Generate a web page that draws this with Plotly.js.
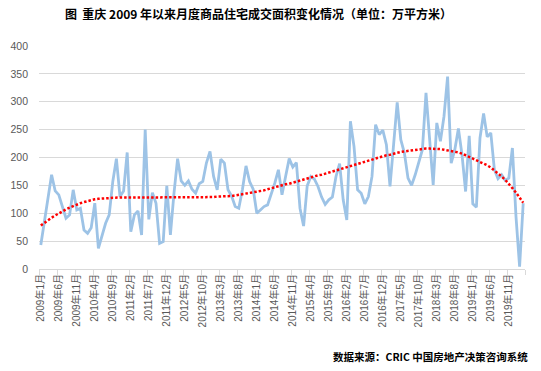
<!DOCTYPE html>
<html>
<head>
<meta charset="utf-8">
<script src="https://cdn.plot.ly/plotly-3.0.1.min.js"></script>
<style>html,body{margin:0;padding:0;background:#fff;}#chart{width:541px;height:371px;}</style>
</head>
<body>
<div id="chart"></div>
<script>
// Monthly categories: 2009-01 .. 2020-03
var startYear = 2009;
var monthCount = 135;
var categories = [];
for (var k = 0; k < monthCount; k++) {
  var yy = startYear + Math.floor(k / 12);
  var mm = (k % 12) + 1;
  categories.push(yy + '年' + mm + '月');
}

// 商品住宅成交面积（万平方米）
var area = [
  43, 88, 128, 169, 140, 133, 112, 91, 97, 142, 106, 109,
  70, 64, 74, 118, 37, 58, 82, 97, 157, 198, 130, 140,
  209, 67, 97, 104, 61, 250, 89, 137, 118, 46, 49, 149,
  61, 136, 198, 158, 150, 158, 143, 136, 153, 157, 190, 211,
  166, 142, 197, 190, 142, 131, 112, 109, 142, 185, 157, 143,
  100, 106, 112, 115, 133, 154, 178, 133, 166, 198, 183, 191,
  109, 77, 149, 166, 161, 148, 129, 116, 124, 129, 166, 189,
  124, 88, 265, 220, 142, 136, 117, 130, 166, 259, 241, 249,
  223, 148, 223, 299, 232, 208, 163, 150, 169, 190, 214, 316,
  229, 151, 262, 229, 274, 345, 190, 214, 252, 205, 139, 239,
  117, 111, 235, 279, 237, 244, 178, 162, 169, 159, 163, 217,
  94, 4, 118
];

// 多项式趋势线
var trend = [
  78, 83, 88, 92, 96, 100, 104, 107, 110, 113, 116, 118,
  120, 122, 123, 125, 126, 126, 127, 127, 128, 128, 128, 128,
  129, 129, 129, 129, 129, 129, 129, 129, 129, 129, 129, 129,
  128, 128, 128, 128, 128, 128, 128, 128, 128, 128, 129, 129,
  129, 130, 130, 130, 131, 131, 132, 133, 134, 135, 136, 137,
  138, 140, 141, 143, 145, 146, 148, 150, 152, 153, 155, 157,
  159, 161, 163, 165, 166, 168, 169, 171, 173, 175, 177, 179,
  181, 183, 185, 187, 189, 191, 193, 195, 197, 199, 200, 202,
  204, 205, 207, 209, 210, 211, 212, 213, 214, 215, 215, 216,
  216, 216, 216, 215, 214, 213, 212, 211, 209, 207, 204, 202,
  199, 196, 193, 190, 186, 182, 177, 172, 166, 160, 153, 145,
  137, 128, 119
];

var titleText = '图\u00a0\u00a0重庆 2009 年以来月度商品住宅成交面积变化情况（单位：万平方米）';
var sourceText = '数据来源：CRIC 中国房地产决策咨询系统';
var yTicks = [0, 50, 100, 150, 200, 250, 300, 350, 400];

var fontFam = 'Liberation Sans, Noto Sans CJK SC, sans-serif';
var cjkFam = 'Noto Sans CJK SC, sans-serif';

var traces = [
  {
    x: categories, y: area, type: 'scatter', mode: 'lines',
    line: {color: '#9dc3e6', width: 2.8},
    hoverinfo: 'skip', showlegend: false
  },
  {
    x: categories, y: trend, type: 'scatter', mode: 'lines',
    line: {color: '#ff0000', width: 2.5, dash: '2.5px,2px'},
    hoverinfo: 'skip', showlegend: false
  }
];

var layout = {
  width: 541, height: 371,
  margin: {l: 39, r: 16, t: 46, b: 102},
  paper_bgcolor: '#ffffff', plot_bgcolor: '#ffffff',
  title: {
    text: titleText,
    font: {family: cjkFam, size: 12, color: '#000000', weight: 'bold'},
    xref: 'container', x: 258.5 / 541, xanchor: 'center',
    yref: 'container', y: 1 - 15 / 371, yanchor: 'middle'
  },
  xaxis: {
    type: 'category',
    tickmode: 'linear', tick0: 0, dtick: 5,
    tickson: 'boundaries',
    ticks: 'outside', ticklen: 5, tickcolor: '#d9d9d9', tickwidth: 1,
    showline: true, linecolor: '#d9d9d9', linewidth: 1,
    showgrid: false, zeroline: false,
    tickangle: -90,
    tickfont: {family: fontFam, size: 10, color: '#595959'},
    range: [-0.5, 134.5]
  },
  yaxis: {
    range: [0, 400],
    tickmode: 'array', tickvals: yTicks,
    showgrid: true, gridcolor: '#d9d9d9', gridwidth: 1,
    zeroline: false, showline: false, ticks: '',
    ticklabelstandoff: 10,
    tickfont: {family: fontFam, size: 10.5, color: '#595959'}
  },
  annotations: [{
    text: sourceText,
    xref: 'paper', yref: 'paper',
    x: 1, xanchor: 'right', xshift: 5,
    y: -0.393, yanchor: 'middle',
    showarrow: false,
    font: {family: cjkFam, size: 10.5, color: '#000000', weight: 'bold'}
  }]
};

Plotly.newPlot('chart', traces, layout, {staticPlot: true, displayModeBar: false});
</script>
</body>
</html>
